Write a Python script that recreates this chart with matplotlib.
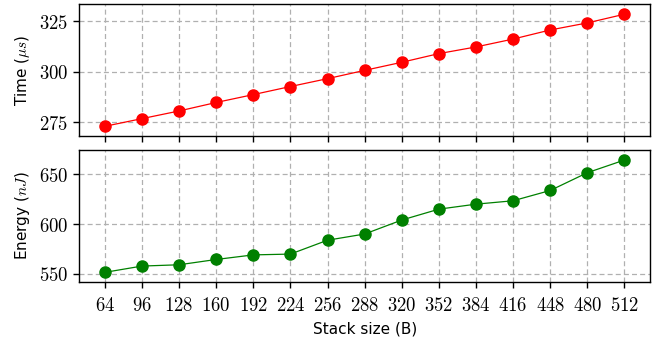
import matplotlib
matplotlib.use("Agg")
import matplotlib.pyplot as plt
from matplotlib.ticker import FuncFormatter

stack_sizes = [64, 96, 128, 160, 192, 224, 256, 288, 320, 352, 384, 416, 448, 480, 512]
time_us = [273.0, 276.8, 280.6, 284.8, 288.7, 292.7, 296.6, 300.7, 304.7,
           309.0, 312.3, 316.2, 320.7, 324.2, 328.5]
energy_nj = [551.6, 557.9, 559.2, 564.5, 569.1, 569.9, 583.8, 590.0, 604.0,
             614.9, 619.9, 623.3, 633.6, 651.4, 664.1]

plt.rcParams['mathtext.fontset'] = 'cm'
plt.rcParams['font.family'] = 'DejaVu Sans'
plt.rcParams['font.size'] = 11

math_fmt = FuncFormatter(lambda v, p: r'$%d$' % v)

fig, (ax1, ax2) = plt.subplots(2, 1, figsize=(6.57, 3.43), dpi=100, sharex=True)
fig.subplots_adjust(left=0.12, right=0.99, top=0.988, bottom=0.178, hspace=0.1)

ax1.plot(stack_sizes, time_us, marker='o', color='red', linewidth=0.9, markersize=8)
ax1.set_ylabel(r'Time ($\mu s$)')
ax1.set_ylim(268, 333.5)
ax1.set_yticks([275, 300, 325])

ax2.plot(stack_sizes, energy_nj, marker='o', color='green', linewidth=0.9, markersize=8)
ax2.set_ylabel(r'Energy ($nJ$)')
ax2.set_ylim(542, 674.5)
ax2.set_yticks([550, 600, 650])
ax2.set_xticks(stack_sizes)
ax2.set_xlabel('Stack size (B)', labelpad=5)

for ax in (ax1, ax2):
    ax.grid(True, linestyle=(0, (4, 2.5)), color='#b0b0b0', linewidth=0.9)
    ax.set_axisbelow(True)
    ax.yaxis.set_major_formatter(math_fmt)
    ax.tick_params(direction='out', length=4, width=1, labelsize=13.5)
    for s in ax.spines.values():
        s.set_linewidth(1.0)

ax2.tick_params(axis='x', pad=6)
ax2.xaxis.set_major_formatter(math_fmt)
ax1.yaxis.set_label_coords(-0.082, 0.5)
ax2.yaxis.set_label_coords(-0.082, 0.5)

fig.savefig('out.png', dpi=100)
